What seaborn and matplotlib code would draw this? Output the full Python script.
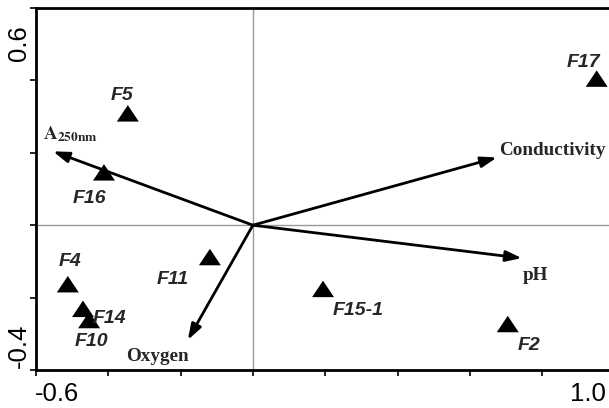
import numpy as np
import pandas as pd
import matplotlib
matplotlib.use("Agg")
import matplotlib.pyplot as plt
import seaborn as sns

# site scores (RDA axis 1 / axis 2)
sites = ["F5", "F16", "F4", "F14", "F10", "F11", "F15-1", "F2", "F17"]
site_x = [-0.346, -0.412, -0.512, -0.470, -0.453, -0.119, 0.194, 0.705, 0.951]
site_y = [0.309, 0.146, -0.163, -0.231, -0.262, -0.088, -0.176, -0.273, 0.405]

# environmental variable arrows
variables = ["A250nm", "Conductivity", "pH", "Oxygen"]
var_x = [-0.553, 0.675, 0.744, -0.180]
var_y = [0.204, 0.187, -0.091, -0.317]

# label offsets in pixels (dx, dy) relative to the point / arrow tip
site_off = {"F5": (-6, 18), "F16": (-14, -26), "F4": (2, 23), "F14": (26, -10),
            "F10": (2, -21), "F11": (-37, -22), "F15-1": (35, -22),
            "F2": (21, -21), "F17": (-13, 16)}
var_off = {"A250nm": (-10, 17), "Conductivity": (2, 7), "pH": (1, -17),
           "Oxygen": (-30, -17)}

df = pd.DataFrame({"site": sites, "x": site_x, "y": site_y})

sns.set_style("white")
plt.rcParams["mathtext.fontset"] = "stix"

fig = plt.figure(figsize=(6.09, 4.08), dpi=100)
ax = fig.add_axes([36 / 609, 38 / 408, 573 / 609, 362 / 408])

ax.axhline(0, color="#999999", lw=1.0, zorder=0)
ax.axvline(0, color="#999999", lw=1.0, zorder=0)

tri = [(-1, -0.75), (1, -0.75), (0, 0.75), (-1, -0.75)]
sns.scatterplot(data=df, x="x", y="y", marker=tri, s=250, color="black",
                edgecolor="none", linewidth=0, ax=ax, zorder=3, legend=False)

for s, x, y in zip(sites, site_x, site_y):
    dx, dy = site_off[s]
    ax.annotate(s, (x, y), xytext=(dx * 0.72, dy * 0.72), textcoords="offset points",
                ha="center", va="center", fontsize=14, fontweight="bold",
                fontstyle="italic", family="Liberation Sans")

for v, x, y in zip(variables, var_x, var_y):
    ax.annotate("", xy=(x, y), xytext=(0, 0),
                arrowprops=dict(arrowstyle="-|>,head_length=0.95,head_width=0.32",
                                color="black", lw=2.0, shrinkA=0, shrinkB=0),
                zorder=4)
    dx, dy = var_off[v]
    label = r"$\mathbf{A}_{\mathbf{250nm}}$" if v == "A250nm" else v
    ha = "center" if v == "Oxygen" else "left"
    ax.annotate(label, (x, y), xytext=(dx * 0.72, dy * 0.72), textcoords="offset points",
                ha=ha, va="center", fontsize=13.8, fontweight="bold",
                family="Liberation Serif")

ax.set_xlim(-0.6, -0.6 + 573 * 0.2 / 72.3)
ax.set_ylim(-0.4, 0.6)
ax.set_xticks(np.arange(-0.6, 0.81, 0.2))
ax.set_yticks(np.arange(-0.4, 0.61, 0.2))
ax.set_xticklabels([])
ax.set_yticklabels([])
ax.tick_params(direction="out", length=4, width=1.2, color="black",
               bottom=True, left=True)
ax.set_xlabel("")
ax.set_ylabel("")

for side in ["left", "bottom", "top"]:
    ax.spines[side].set_visible(True)
    ax.spines[side].set_color("black")
    ax.spines[side].set_linewidth(2.0)
ax.spines["right"].set_visible(False)

tick_font = dict(fontsize=18.5, family="Liberation Sans", color="black")
fig.text(35 / 609, 1 - 394 / 408, "-0.6", ha="left", va="center", **tick_font)
fig.text(606 / 609, 1 - 394 / 408, "1.0", ha="right", va="center", **tick_font)
fig.text(19 / 609, 1 - 25 / 408, "0.6", ha="center", va="top", rotation=90, **tick_font)
fig.text(19 / 609, 1 - 368 / 408, "-0.4", ha="center", va="bottom", rotation=90, **tick_font)

fig.savefig("out.png", dpi=100)
